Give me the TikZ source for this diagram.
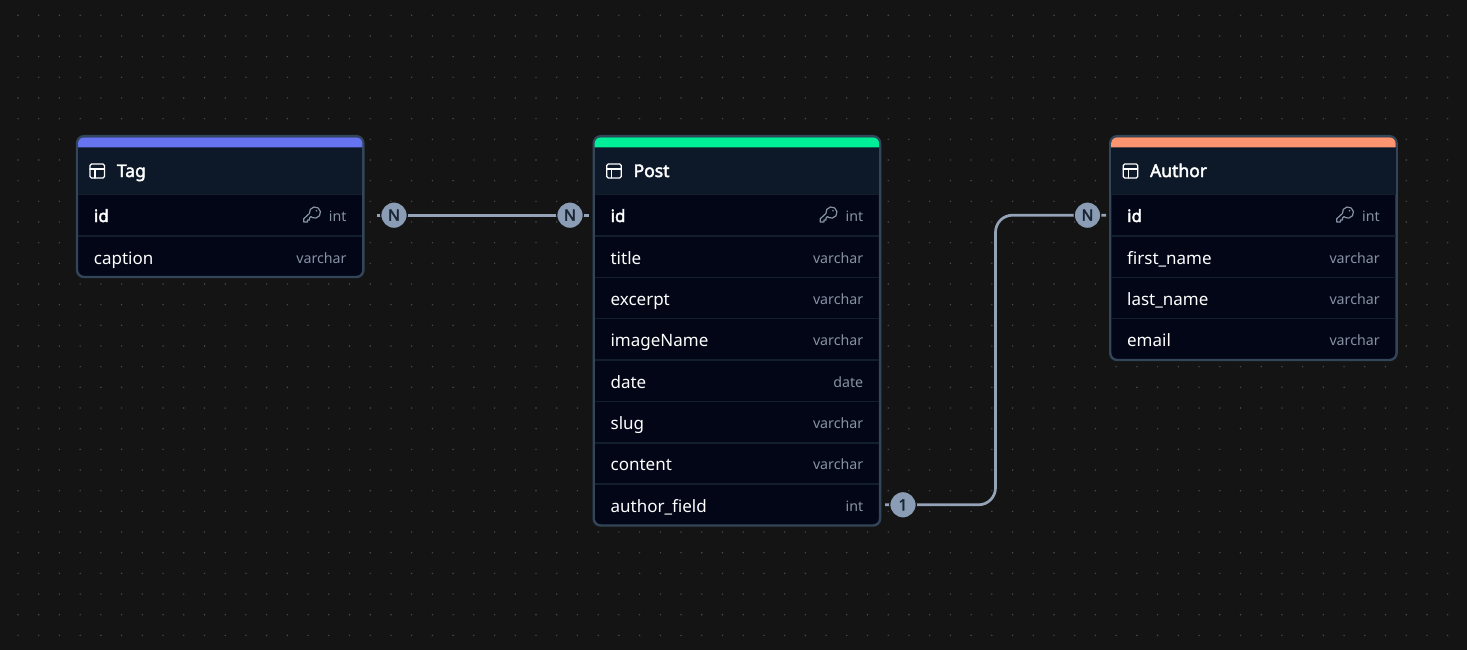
\documentclass[tikz,border=0pt]{standalone}
\usepackage{fontspec}
\setmainfont{Noto Sans}
\newfontfamily\uibold[FakeBold=2.4]{Noto Sans}
\definecolor{pagebg}{HTML}{141414}
\definecolor{griddot}{HTML}{4C4C4C}
\definecolor{tableedge}{HTML}{334559}
\definecolor{headbg}{HTML}{0D1829}
\definecolor{rowbg}{HTML}{020617}
\definecolor{rowline}{HTML}{141F2E}
\definecolor{typegrey}{HTML}{8793A5}
\definecolor{wire}{HTML}{94A3B8}
\definecolor{badgefill}{HTML}{8A9DB5}
\definecolor{badgetext}{HTML}{1A2535}
\definecolor{bandtag}{HTML}{6674F0}
\definecolor{bandpost}{HTML}{00EE98}
\definecolor{bandauthor}{HTML}{FF9470}
\tikzset{
  x=1pt,y=-1pt,
  tablebox/.style={inner sep=0pt,outer sep=0pt,minimum width=286.4pt,rectangle,rounded corners=7pt,draw=tableedge,line width=2.4pt,fill=rowbg},
  fieldname/.style={inner sep=0pt,anchor=base west,text=white,font=\fontsize{17}{20}\selectfont},
  keyname/.style={fieldname,font=\uibold\fontsize{17}{20}\selectfont},
  fieldtype/.style={inner sep=0pt,anchor=base east,text=typegrey,font=\fontsize{14.2}{17}\selectfont},
  tabletitle/.style={inner sep=0pt,anchor=base west,text=white,font=\uibold\fontsize{17.5}{20}\selectfont},
  connector/.style={draw=wire,line width=2.7pt},
  badge/.style={circle,fill=badgefill,draw=pagebg,line width=1.2pt,minimum size=26.5pt,inner sep=0pt,text=badgetext,font=\uibold\fontsize{15.5}{16}\selectfont},
  iconline/.style={draw=#1,line width=1.3pt,line cap=round,line join=round},
}
% table frame: #1 name, #2 left, #3 top, #4 bottom, #5 band colour, #6 title
\newcommand{\erdtable}[6]{%
  \node[tablebox,minimum height=#4pt-#3pt] (#1) at (#2+143.2,#3/2+#4/2) {};
  \fill[headbg] (#2+1,147) rectangle (#2+285.4,194);
  \fill[#5] (#2+1,147.3) [rounded corners=6pt] -- (#2+1,137.4) -- (#2+285.4,137.4) [sharp corners] -- (#2+285.4,147.3) -- cycle;
  \draw[rowline,line width=1.5pt] (#2+1,194.5) -- (#2+285.4,194.5);
  \draw[iconline=white,rounded corners=1.5pt] (#2+13,164) rectangle (#2+27.5,178);
  \draw[iconline=white] (#2+13,169) -- (#2+27.5,169) (#2+18,169) -- (#2+18,178);
  \node[tabletitle] (#1-title) at (#2+39.7,177) {#6};
}
% row: #1 id, #2 table left, #3 baseline, #4 name, #5 type, #6 name style
\newcommand{\erdrow}[6]{%
  \node[#6] (#1-name) at (#2+16.7,#3) {#4};
  \node[fieldtype] (#1-type) at (#2+269.7,#3-0.8) {#5};
}
\newcommand{\erdsep}[2]{\draw[rowline,line width=1.3pt] (#1+1,#2) -- (#1+285.4,#2);}
\newcommand{\keyicon}[1]{%
  \begin{scope}[shift={(#1,0)}]
    \draw[iconline=typegrey,line width=1.2pt]
      (-16.3,222) -- (-16.3,218.8) -- (-10.6,213.5)
      arc[start angle=170,end angle=440,radius=5.6]
      -- (-7.5,217.6) -- (-9,216.6) -- (-10.5,218) -- (-10.5,220) -- (-12.5,220) -- (-12.5,222) -- cycle;
    \fill[typegrey] (-3.5,210.8) circle[radius=0.9];
  \end{scope}
}
\begin{document}
\begin{tikzpicture}
\useasboundingbox (0,0) rectangle (1467,650);
\fill[pagebg] (0,0) rectangle (1467,650);
\foreach \i in {0,...,70}{
  \foreach \j in {0,...,30}{
    \fill[griddot] ({18+20.72*\i},{15.3+20.67*\j}) circle[radius=0.8];
  }
}

% Tag
\erdtable{tag}{77}{136.2}{277}{bandtag}{Tag}
\erdsep{77}{236}
\erdrow{tagid}{77}{222}{id}{int}{keyname}
\keyicon{320}
\erdrow{tagcaption}{77}{264}{caption}{varchar}{fieldname}

% Post
\erdtable{post}{593.7}{136.2}{525.5}{bandpost}{Post}
\foreach \yy in {236,277.5,318.5,360,401.5,443,484}{\erdsep{593.7}{\yy}}
\erdrow{postid}{593.7}{222}{id}{int}{keyname}
\keyicon{836.5}
\erdrow{posttitle}{593.7}{264}{title}{varchar}{fieldname}
\erdrow{postexcerpt}{593.7}{305}{excerpt}{varchar}{fieldname}
\erdrow{postimage}{593.7}{346}{imageName}{varchar}{fieldname}
\erdrow{postdate}{593.7}{388}{date}{date}{fieldname}
\erdrow{postslug}{593.7}{429}{slug}{varchar}{fieldname}
\erdrow{postcontent}{593.7}{470}{content}{varchar}{fieldname}
\erdrow{postauthor}{593.7}{512}{author\_field}{int}{fieldname}

% Author
\erdtable{author}{1110.2}{136.2}{360}{bandauthor}{Author}
\foreach \yy in {236,277.5,318.5}{\erdsep{1110.2}{\yy}}
\erdrow{authorid}{1110.2}{222}{id}{int}{keyname}
\keyicon{1353}
\erdrow{authorfirst}{1110.2}{264}{first\_name}{varchar}{fieldname}
\erdrow{authorlast}{1110.2}{305}{last\_name}{varchar}{fieldname}
\erdrow{authoremail}{1110.2}{346}{email}{varchar}{fieldname}

% connector ends
\coordinate (tagport) at (376.5,215.2);
\coordinate (postinport) at (588.5,215.2);
\coordinate (postoutport) at (885,504.8);
\coordinate (authorport) at (1106,215.2);

\draw[connector] (tagport) -- (postinport);
\draw[connector,rounded corners=17pt] (postoutport) -- (995.5,504.8) -- (995.5,215.2) -- (authorport);

\node[badge] (badgetag) at (394,215.2) {N};
\node[badge] (badgepost) at (570,215.2) {N};
\node[badge] (badgeone) at (903,504.8) {1};
\node[badge] (badgeauthor) at (1087.5,215.2) {N};
\end{tikzpicture}
\end{document}
